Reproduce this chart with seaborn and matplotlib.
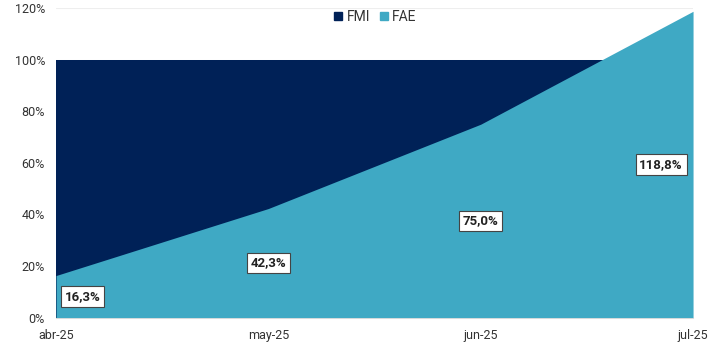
import numpy as np
import pandas as pd
import matplotlib
matplotlib.use('Agg')
import matplotlib.pyplot as plt
import seaborn as sns
from matplotlib.lines import Line2D

# data
months = ['abr-25', 'may-25', 'jun-25', 'jul-25']
fmi = [100.0, 100.0, 100.0, 100.0]
fae = [16.3, 42.3, 75.0, 118.8]
fae_labels = ['16,3%', '42,3%', '75,0%', '118,8%']

c_fmi = '#002157'
c_fae = '#3fa9c4'

sns.set_style('white')
plt.rcParams['font.family'] = ['Roboto', 'DejaVu Sans']

df = pd.DataFrame({'mes': months, 'FMI': fmi, 'FAE': fae})
x = np.arange(len(months))

fig, ax = plt.subplots(figsize=(7.28, 3.56), dpi=100)
fig.subplots_adjust(left=0.077, right=0.952, top=0.977, bottom=0.108)

sns.lineplot(x=x, y=df['FMI'], ax=ax, color=c_fmi, linewidth=0)
sns.lineplot(x=x, y=df['FAE'], ax=ax, color=c_fae, linewidth=0)
ax.fill_between(x, 0, df['FMI'], color=c_fmi, linewidth=0, zorder=2)
ax.fill_between(x, 0, df['FAE'], color=c_fae, linewidth=0, zorder=3)

# data labels at half height, kept inside the plot
offs = [19, 0, 0, -23]
for i, (v, lab) in enumerate(zip(fae, fae_labels)):
    ax.annotate(lab, (x[i], v / 2), xytext=(offs[i], 0), textcoords='offset points',
                ha='center', va='center', fontsize=9.5, fontweight='bold', color='#222222',
                bbox=dict(boxstyle='square,pad=0.28', fc='white', ec='#444444', lw=0.8),
                zorder=5)

ax.set_xlim(0, 3)
ax.set_ylim(0, 120)
ax.set_yticks(np.arange(0, 121, 20))
ax.set_yticklabels([f'{t}%' for t in range(0, 121, 20)])
ax.set_xticks(x)
ax.set_xticklabels(months)
ax.set_xlabel('')
ax.set_ylabel('')
ax.grid(axis='y', color='#eeeeee', linewidth=0.8, zorder=0)
ax.set_axisbelow(True)
for s in ['top', 'right', 'left']:
    ax.spines[s].set_visible(False)
ax.spines['bottom'].set_color('#dddddd')
ax.tick_params(axis='y', length=0, labelsize=9, colors='#333333', pad=8)
ax.tick_params(axis='x', length=4, color='#dddddd', labelsize=9, colors='#333333', pad=4)

handles = [Line2D([], [], marker='s', linestyle='', color=c_fmi, markersize=5.5),
           Line2D([], [], marker='s', linestyle='', color=c_fae, markersize=5.5)]
ax.legend(handles, ['FMI', 'FAE'], loc='upper center', bbox_to_anchor=(0.5, 1.035), ncol=2,
          frameon=False, fontsize=10, handlelength=0.8, handletextpad=0.2,
          columnspacing=0.6, labelcolor='#333333')

fig.savefig('out.png', dpi=100)
